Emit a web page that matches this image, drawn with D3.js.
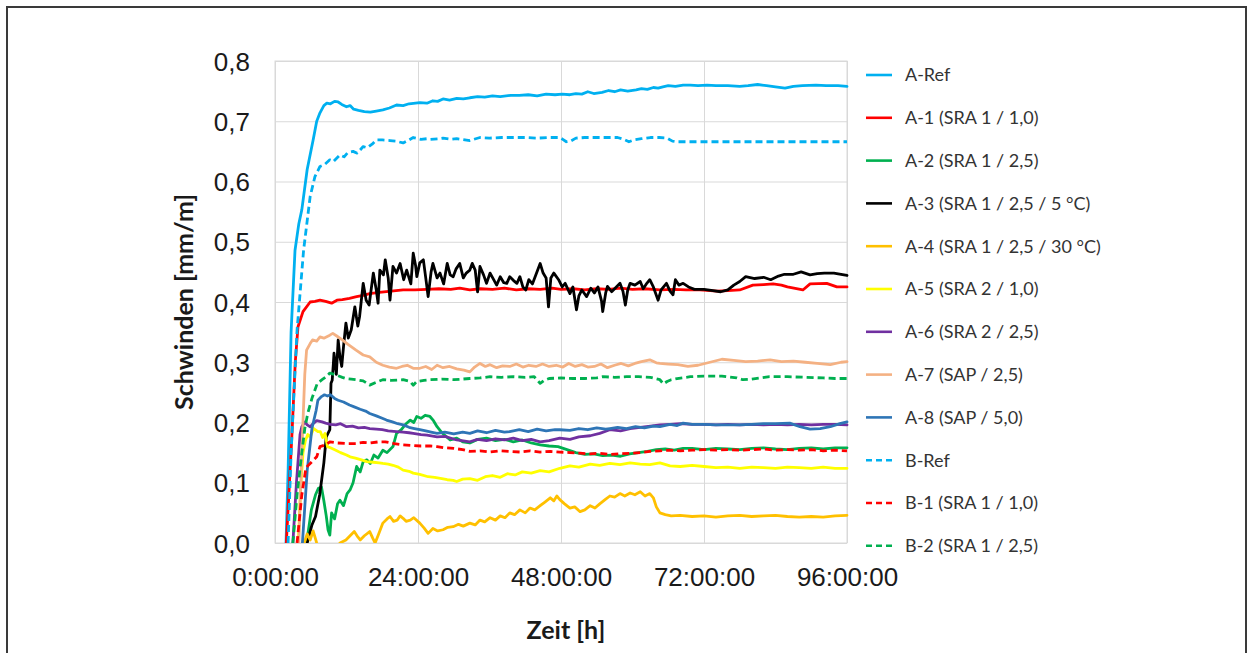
<!DOCTYPE html>
<html>
<head>
<meta charset="utf-8">
<script src="https://cdn.jsdelivr.net/npm/d3@7"></script>
<style>
  html, body { margin: 0; padding: 0; background: #ffffff; }
  svg { display: block; }
</style>
</head>
<body>
<svg id="chart" width="1253" height="653"></svg>
<script>
// Schwinden über die Zeit, Messreihen A und B
const xTicks = [0, 24, 48, 72, 96];
const yTicks = [0, 0.1, 0.2, 0.3, 0.4, 0.5, 0.6, 0.7, 0.8];
const xTitle = "Zeit [h]";
const yTitle = "Schwinden [mm/m]";

const seriesNames = [
  "A-Ref", "A-1 (SRA 1 / 1,0)", "A-2 (SRA 1 / 2,5)", "A-3 (SRA 1 / 2,5 / 5 °C)",
  "A-4 (SRA 1 / 2,5 / 30 °C)", "A-5 (SRA 2 / 1,0)", "A-6 (SRA 2 / 2,5)",
  "A-7 (SAP / 2,5)", "A-8 (SAP / 5,0)", "B-Ref", "B-1 (SRA 1 / 1,0)", "B-2 (SRA 1 / 2,5)"
];
const seriesColors = [
  "#00b0f0", "#ff0000", "#00b050", "#000000", "#ffc000", "#ffff00",
  "#7030a0", "#f4b183", "#2e75b6", "#00b0f0", "#ff0000", "#00b050"
];
const seriesDashed = [false, false, false, false, false, false, false, false, false, true, true, true];

// [Zeit in h, Schwinden in mm/m]
const aRef = [[1.85,0],[2.2,0.12],[2.7,0.35],[3.36,0.486],[4.0,0.53],[4.5,0.553],[5.4,0.62],[6.4,0.669],[7.0,0.70],[7.55,0.714],[8.2,0.726],[8.7,0.730],[9.3,0.729],[10.0,0.733],[10.6,0.732],[11.2,0.728],[12.0,0.724],[12.6,0.726],[13.2,0.72],[14.0,0.718],[15.0,0.716],[16.0,0.715],[17.0,0.717],[18.1,0.719],[19.2,0.722],[20.4,0.727],[21.5,0.726],[22.5,0.729],[24.3,0.731],[25.5,0.730],[26.5,0.734],[27.3,0.733],[28.2,0.737],[29.3,0.735],[30.5,0.738],[31.6,0.737],[32.7,0.739],[34,0.741],[35.2,0.740],[36.5,0.742],[37.8,0.741],[39.6,0.743],[41,0.743],[42.5,0.744],[44,0.742],[45.5,0.745],[47,0.744],[48.2,0.745],[49.5,0.744],[50.5,0.746],[51.5,0.745],[52.5,0.749],[53.5,0.746],[54.9,0.748],[56,0.751],[57,0.749],[58,0.752],[59.2,0.750],[60.6,0.752],[61.5,0.754],[62.5,0.753],[63.5,0.756],[64.3,0.755],[65.1,0.757],[66,0.759],[67.2,0.758],[68.5,0.760],[69.7,0.760],[71,0.759],[72.5,0.760],[74,0.759],[76,0.759],[78,0.758],[79.4,0.759],[81,0.761],[82.5,0.759],[84,0.757],[85.6,0.755],[87,0.758],[88.5,0.759],[90.8,0.760],[92.5,0.759],[94.5,0.759],[96,0.758]];

const a1 = [[1.9,0],[2.8,0.171],[3.4,0.30],[3.86,0.359],[4.7,0.384],[5.9,0.400],[6.7,0.401],[7.55,0.403],[8.5,0.401],[9.5,0.398],[10.4,0.403],[11.3,0.404],[12.5,0.406],[13.7,0.409],[14.8,0.411],[15.9,0.414],[17.5,0.416],[19.5,0.418],[21.5,0.420],[23.5,0.420],[25.5,0.421],[27.5,0.422],[29.5,0.421],[31,0.423],[32.7,0.420],[34.5,0.422],[36.5,0.421],[38.5,0.423],[40.5,0.420],[42.5,0.422],[44.5,0.421],[46.5,0.423],[48,0.421],[50,0.422],[52,0.420],[54,0.422],[56,0.421],[58,0.423],[60,0.421],[62,0.422],[64.6,0.420],[67,0.421],[69,0.420],[71.3,0.420],[74.2,0.418],[76,0.419],[78,0.420],[80.2,0.428],[82,0.429],[83.6,0.430],[85,0.428],[86,0.425],[88.6,0.420],[89.8,0.430],[92.6,0.431],[94.3,0.425],[96,0.425]];

const a2 = [[5.3,0],[6.1,0.055],[6.8,0.08],[7.3,0.091],[7.8,0.093],[8.2,0.07],[8.6,0.045],[8.9,0.022],[9.2,0.013],[9.5,0.05],[10.0,0.04],[10.5,0.065],[10.9,0.071],[11.5,0.062],[12.1,0.082],[12.6,0.088],[13.1,0.10],[13.7,0.127],[14.3,0.118],[14.8,0.135],[15.4,0.138],[16.0,0.132],[16.6,0.146],[17.3,0.141],[18.1,0.154],[18.8,0.150],[19.8,0.160],[20.4,0.182],[21.2,0.188],[22.0,0.198],[22.7,0.204],[23.3,0.200],[23.8,0.210],[24.5,0.207],[25.2,0.212],[26.0,0.210],[26.6,0.203],[27.2,0.193],[28.0,0.183],[28.6,0.178],[29.4,0.171],[30.5,0.174],[31.5,0.168],[32.7,0.166],[34,0.172],[35.5,0.174],[37,0.170],[38.5,0.172],[40,0.168],[41.5,0.171],[43,0.166],[44.5,0.163],[46,0.161],[47.5,0.160],[49,0.155],[50.5,0.150],[52,0.147],[53.5,0.148],[55,0.145],[56.5,0.146],[58,0.144],[59.5,0.148],[61,0.150],[62.5,0.152],[64,0.155],[65.5,0.156],[67,0.154],[68.5,0.157],[70,0.157],[72,0.155],[74,0.157],[76,0.156],[78,0.155],[80,0.157],[82,0.158],[84,0.156],[86,0.155],[88,0.157],[90,0.158],[92,0.156],[94,0.158],[96,0.158]];

const a3 = [[5.4,0],[6.2,0.03],[6.8,0.044],[7.5,0.08],[8.2,0.133],[8.6,0.176],[9.2,0.188],[9.4,0.265],[9.6,0.27],[9.8,0.298],[9.9,0.315],[10.3,0.28],[10.6,0.337],[10.9,0.309],[11.2,0.293],[11.5,0.326],[11.9,0.365],[12.3,0.340],[12.8,0.354],[13.4,0.392],[13.9,0.360],[14.2,0.376],[14.8,0.431],[15.3,0.403],[15.8,0.395],[16.5,0.448],[17.0,0.420],[17.3,0.398],[17.6,0.453],[18.2,0.445],[18.5,0.470],[19.0,0.440],[19.3,0.403],[19.8,0.459],[20.4,0.448],[21.0,0.464],[21.6,0.437],[22.1,0.453],[22.8,0.430],[23.2,0.481],[23.6,0.460],[23.8,0.442],[24.3,0.465],[24.9,0.470],[25.3,0.440],[25.7,0.409],[26.2,0.45],[26.5,0.464],[27.2,0.440],[27.7,0.448],[28.3,0.430],[28.9,0.464],[29.4,0.445],[29.9,0.442],[30.4,0.455],[31.0,0.464],[31.6,0.440],[32.1,0.448],[32.7,0.453],[33.1,0.464],[33.6,0.453],[34.0,0.417],[34.4,0.459],[35.0,0.445],[35.5,0.431],[36.1,0.448],[36.7,0.437],[37.2,0.428],[37.8,0.442],[38.4,0.432],[38.9,0.431],[39.4,0.442],[40.0,0.436],[40.6,0.431],[41.1,0.442],[41.6,0.425],[42.1,0.420],[42.6,0.437],[43.2,0.430],[44.5,0.464],[45.0,0.448],[45.5,0.440],[45.9,0.392],[46.3,0.440],[46.8,0.448],[47.6,0.437],[48.2,0.425],[48.7,0.431],[49.5,0.414],[50.0,0.425],[50.6,0.387],[51.0,0.410],[51.5,0.42],[52.3,0.409],[53.0,0.423],[53.6,0.415],[54.2,0.425],[54.8,0.402],[55.0,0.384],[55.5,0.415],[55.8,0.426],[56.5,0.417],[57.2,0.424],[57.9,0.431],[58.4,0.418],[58.8,0.395],[59.2,0.420],[59.6,0.431],[60.4,0.428],[61.3,0.434],[61.8,0.422],[62.4,0.431],[62.9,0.437],[63.5,0.425],[64.3,0.403],[64.8,0.420],[65.7,0.431],[66.3,0.418],[66.8,0.412],[67.2,0.437],[67.8,0.428],[68.5,0.431],[69.4,0.425],[70.4,0.421],[72,0.421],[73.5,0.419],[74.8,0.417],[76,0.420],[77,0.428],[78,0.434],[79,0.442],[80.5,0.439],[82,0.441],[83.2,0.437],[84.5,0.443],[85.5,0.446],[87,0.446],[88.3,0.450],[89.8,0.445],[91,0.447],[92.2,0.448],[93.8,0.448],[95,0.446],[96,0.444]];

const a4 = [[4.9,0],[5.4,0.015],[5.9,0.005],[6.4,0.02],[7.0,0.0],[7.5,-0.01],[9,-0.02],[10.5,-0.005],[10.9,0.0],[11.9,0.005],[12.6,0.012],[13.3,0.019],[13.9,0.010],[14.3,0.005],[15.0,0.012],[15.9,0.019],[16.4,0.008],[16.8,0.0],[17.4,0.015],[18.1,0.033],[18.8,0.040],[19.3,0.044],[19.9,0.036],[20.5,0.038],[21.0,0.045],[21.5,0.041],[22.0,0.036],[22.7,0.038],[23.3,0.042],[24.3,0.033],[25.0,0.025],[25.7,0.016],[26.5,0.024],[27.3,0.020],[28.2,0.022],[29.0,0.026],[29.9,0.027],[30.8,0.031],[31.6,0.028],[32.7,0.033],[33.6,0.030],[34.4,0.038],[35.2,0.035],[36.1,0.042],[37,0.038],[37.8,0.045],[38.6,0.042],[39.4,0.05],[40.2,0.047],[41.1,0.055],[42,0.050],[42.8,0.058],[43.6,0.055],[44.5,0.062],[45.3,0.068],[46.2,0.075],[46.8,0.07],[47.3,0.078],[47.8,0.072],[48.6,0.065],[49.5,0.058],[50.3,0.060],[51.2,0.052],[52.0,0.055],[52.9,0.062],[53.7,0.058],[54.5,0.065],[55.4,0.072],[56.2,0.078],[57.0,0.076],[57.9,0.082],[58.7,0.078],[59.6,0.083],[60.4,0.080],[61.3,0.085],[62.1,0.078],[62.9,0.082],[63.5,0.075],[64.0,0.060],[64.6,0.050],[65.5,0.047],[66.5,0.045],[68,0.046],[70,0.044],[72,0.045],[74,0.043],[76,0.045],[78,0.046],[80,0.044],[82,0.045],[84,0.046],[86,0.044],[88,0.043],[90,0.044],[92,0.043],[94,0.045],[96,0.046]];

const a5 = [[3.9,0],[4.3,0.09],[4.7,0.15],[5.1,0.17],[5.5,0.18],[5.9,0.176],[6.5,0.19],[7.2,0.185],[7.6,0.185],[8.0,0.175],[8.4,0.182],[8.8,0.16],[9.3,0.158],[10.2,0.154],[11,0.150],[12,0.146],[12.6,0.143],[13.5,0.141],[14.5,0.138],[15.4,0.135],[16.5,0.134],[17.5,0.133],[18.1,0.132],[19.0,0.131],[19.8,0.129],[20.7,0.126],[21.5,0.121],[22.5,0.119],[23.2,0.116],[24.3,0.114],[25.7,0.110],[26.8,0.109],[28.0,0.107],[28.9,0.105],[29.9,0.104],[30.5,0.102],[31.5,0.106],[32.7,0.107],[34,0.104],[35.3,0.110],[36.5,0.112],[37.8,0.109],[39,0.115],[40.3,0.113],[41.5,0.118],[43,0.116],[44.5,0.120],[46,0.118],[47.8,0.124],[49.5,0.128],[51,0.126],[52.9,0.131],[54.5,0.129],[56.2,0.132],[57.9,0.130],[59.6,0.133],[61.3,0.131],[62.9,0.130],[64.6,0.133],[66.3,0.128],[68,0.127],[70,0.129],[72,0.127],[74,0.125],[76,0.126],[78,0.124],[80,0.126],[82,0.125],[84,0.124],[86,0.126],[88,0.125],[90,0.124],[92,0.126],[94,0.124],[96,0.124]];

const a6 = [[3.0,0],[3.6,0.1],[4.2,0.18],[4.5,0.193],[5.0,0.201],[5.4,0.196],[5.9,0.193],[6.5,0.199],[7.0,0.203],[7.9,0.201],[8.5,0.199],[9.3,0.197],[10.2,0.196],[11,0.198],[12,0.193],[13,0.194],[14,0.191],[15,0.192],[15.9,0.190],[17,0.189],[18,0.188],[19,0.186],[20.4,0.185],[21.5,0.184],[22.5,0.183],[23.2,0.182],[24.5,0.180],[25.5,0.179],[27.2,0.176],[28.5,0.177],[30.5,0.171],[32.7,0.168],[34,0.172],[35.5,0.170],[37,0.173],[38.5,0.171],[40,0.174],[41.5,0.170],[43,0.172],[44.5,0.168],[46,0.170],[47.8,0.174],[49.5,0.172],[51,0.176],[52.9,0.178],[54.5,0.182],[56.2,0.188],[58,0.186],[59.6,0.190],[61.3,0.192],[63,0.194],[64.6,0.196],[66.3,0.197],[68,0.198],[70,0.197],[72,0.197],[74,0.196],[76,0.197],[78,0.196],[80,0.197],[82,0.196],[84,0.197],[86,0.196],[88,0.197],[90,0.196],[92,0.197],[94,0.197],[96,0.196]];

const a7 = [[4.0,0],[4.5,0.15],[5.0,0.28],[5.3,0.32],[5.9,0.331],[6.3,0.337],[7.0,0.335],[7.55,0.342],[8.2,0.340],[9.2,0.345],[9.7,0.348],[10.3,0.344],[11.3,0.337],[12.2,0.330],[13.6,0.320],[14.8,0.312],[15.9,0.309],[17.0,0.300],[18.1,0.295],[19.2,0.292],[20.4,0.29],[21.3,0.293],[22.2,0.295],[23.2,0.290],[24.3,0.290],[25.3,0.293],[26.3,0.288],[27.2,0.295],[28.2,0.291],[29.3,0.293],[30.5,0.289],[31.7,0.287],[32.7,0.284],[33.5,0.292],[34.4,0.298],[35.3,0.293],[36.1,0.296],[37.2,0.291],[38.2,0.294],[39.4,0.293],[40.5,0.297],[41.6,0.292],[42.6,0.295],[43.8,0.293],[44.9,0.297],[46,0.293],[47.2,0.295],[48.3,0.292],[49.3,0.298],[50.4,0.293],[51.5,0.296],[52.5,0.292],[53.6,0.293],[54.7,0.297],[55.8,0.291],[57,0.295],[58.1,0.298],[59.3,0.294],[60.4,0.298],[61.5,0.301],[62.9,0.304],[64,0.299],[64.6,0.298],[66,0.297],[67.6,0.296],[69.3,0.293],[71,0.295],[73,0.300],[75,0.305],[77,0.303],[79,0.301],[81,0.302],[83.1,0.304],[85,0.301],[87,0.302],[89,0.300],[91,0.298],[93.2,0.296],[95,0.300],[96,0.301]];

const a8 = [[4.6,0],[5.4,0.12],[6.2,0.19],[6.9,0.22],[7.2,0.237],[7.8,0.243],[8.3,0.246],[8.8,0.244],[9.3,0.246],[10.0,0.240],[10.6,0.237],[11.5,0.234],[12.5,0.229],[13.3,0.226],[14.3,0.222],[15.2,0.219],[15.9,0.215],[17.0,0.211],[18.0,0.207],[18.7,0.204],[19.7,0.201],[20.6,0.198],[21.5,0.196],[22.5,0.192],[23.4,0.190],[24.3,0.188],[25.3,0.186],[26.2,0.184],[27.2,0.182],[28.5,0.184],[30,0.181],[31.5,0.184],[32.7,0.182],[34,0.186],[35.5,0.183],[37,0.187],[38.5,0.184],[39.4,0.185],[41,0.188],[42.5,0.185],[44,0.189],[45.5,0.186],[47,0.188],[47.8,0.188],[49.5,0.187],[51,0.190],[52.5,0.188],[54,0.191],[55.5,0.189],[56.2,0.190],[57.5,0.192],[59,0.190],[60.5,0.193],[62,0.191],[63.5,0.194],[64.6,0.193],[66.3,0.197],[67.5,0.195],[68.5,0.199],[70,0.197],[72,0.197],[74,0.196],[76,0.196],[78,0.196],[80,0.197],[82,0.198],[84,0.198],[86.4,0.199],[88.1,0.193],[89.8,0.189],[91.5,0.190],[93.2,0.193],[94.8,0.198],[96,0.201]];

const bRef = [[2.2,0],[2.7,0.15],[3.7,0.353],[4.8,0.486],[5.9,0.575],[6.7,0.608],[7.55,0.625],[8.3,0.628],[9.2,0.636],[9.8,0.633],[10.9,0.644],[11.6,0.641],[12.2,0.648],[13.1,0.650],[13.8,0.647],[14.8,0.658],[15.5,0.656],[16.3,0.662],[17.0,0.669],[18.0,0.669],[19.3,0.668],[20.3,0.667],[21.5,0.664],[22.3,0.668],[23.2,0.673],[24.5,0.670],[25.5,0.671],[26.0,0.670],[27.5,0.671],[28.2,0.672],[29.5,0.670],[30.5,0.671],[32.7,0.668],[34.4,0.673],[36,0.672],[38,0.673],[40,0.673],[42,0.673],[44,0.672],[46,0.673],[47.8,0.673],[48.3,0.670],[48.9,0.666],[49.6,0.667],[50.5,0.672],[52,0.673],[54,0.673],[56,0.673],[57.5,0.673],[58.5,0.670],[59.4,0.666],[60.2,0.669],[61.5,0.671],[63,0.673],[64.5,0.673],[65.8,0.672],[66.7,0.667],[67.5,0.666],[70,0.666],[75,0.666],[80,0.666],[85,0.666],[90,0.666],[96,0.666]];

const b1 = [[3.7,0],[4.5,0.08],[5.2,0.125],[7.0,0.143],[7.55,0.160],[8.5,0.163],[9.2,0.168],[10.5,0.166],[12,0.165],[13.4,0.165],[14.8,0.167],[16,0.166],[17.5,0.168],[18.5,0.168],[20,0.165],[21.5,0.163],[23,0.162],[24.5,0.161],[26,0.161],[27.2,0.160],[28.5,0.158],[30,0.157],[31.5,0.155],[32.7,0.152],[34.4,0.153],[36.1,0.151],[37.8,0.153],[39.4,0.152],[41.1,0.151],[42.8,0.153],[44.5,0.151],[46.2,0.152],[47.8,0.151],[49.5,0.150],[51.2,0.149],[52.9,0.148],[54.5,0.149],[56.2,0.147],[57.9,0.148],[59.6,0.149],[61.3,0.150],[62.9,0.152],[64.6,0.153],[66.3,0.154],[68,0.153],[70,0.154],[72,0.155],[74,0.154],[76,0.155],[78,0.154],[80,0.155],[82,0.156],[84,0.154],[86,0.155],[88,0.154],[90,0.155],[92,0.153],[94,0.154],[96,0.153]];

const b2 = [[3.0,0],[3.7,0.08],[4.5,0.15],[5.0,0.19],[5.5,0.215],[6.2,0.24],[6.7,0.254],[7.1,0.265],[7.9,0.271],[8.6,0.276],[9.2,0.282],[10.2,0.279],[11.3,0.275],[11.9,0.273],[12.8,0.272],[13.7,0.271],[14.8,0.269],[15.9,0.262],[16.8,0.266],[18.1,0.271],[19.5,0.270],[21.5,0.271],[22.7,0.268],[23.2,0.262],[23.8,0.268],[25,0.270],[26,0.271],[28,0.272],[30,0.271],[32.7,0.273],[34.4,0.274],[36.1,0.276],[38,0.275],[40,0.276],[42,0.275],[43.5,0.276],[44.5,0.265],[45.2,0.270],[46,0.273],[48,0.274],[50,0.273],[52,0.273],[54,0.274],[55,0.276],[57,0.275],[59,0.276],[61,0.276],[63,0.275],[64.6,0.271],[65.2,0.264],[65.8,0.268],[66.5,0.271],[67.5,0.273],[69.7,0.276],[72,0.277],[75,0.277],[77.5,0.274],[78.5,0.271],[80,0.272],[83,0.276],[86,0.276],[89,0.275],[92,0.274],[94,0.273],[96,0.273]];

const seriesValues = [aRef, a1, a2, a3, a4, a5, a6, a7, a8, bRef, b1, b2];

// Layout
const svg = d3.select("#chart");
const plot = { left: 275, top: 61, right: 847, bottom: 543 };
const width = plot.right - plot.left;
const height = plot.bottom - plot.top;

// Outer frame
svg.append("path")
  .attr("d", "M7,660 L7,7 L1246,7 L1246,660")
  .attr("fill", "none")
  .attr("stroke", "#3a3a3a")
  .attr("stroke-width", 2);

const x = d3.scaleLinear().domain([0, 96]).range([0, width]);
const y = d3.scaleLinear().domain([0, 0.8]).range([height, 0]);

const g = svg.append("g").attr("transform", `translate(${plot.left},${plot.top})`);

const fmtY = v => d3.format(".1f")(v).replace(".", ",");
const fmtX = h => `${h}:00:00`;

// Y axis with horizontal gridlines
const yAxis = g.append("g")
  .call(d3.axisLeft(y).tickValues(yTicks).tickFormat(fmtY).tickSize(-width).tickPadding(25));
yAxis.select(".domain").remove();
yAxis.selectAll(".tick line").attr("stroke", "#d9d9d9").attr("stroke-width", 1);
yAxis.selectAll(".tick text")
  .attr("font-family", "'Liberation Sans', Arial, sans-serif")
  .attr("font-size", 26)
  .attr("fill", "#1a1a1a")
  .attr("dy", "0.35em");

// X axis with vertical gridlines
const xAxis = g.append("g")
  .attr("transform", `translate(0,${height})`)
  .call(d3.axisBottom(x).tickValues(xTicks).tickFormat(fmtX).tickSize(-height).tickPadding(25));
xAxis.select(".domain").remove();
xAxis.selectAll(".tick line").attr("stroke", "#d9d9d9").attr("stroke-width", 1);
xAxis.selectAll(".tick text")
  .attr("font-family", "'Liberation Sans', Arial, sans-serif")
  .attr("font-size", 26)
  .attr("fill", "#1a1a1a");

// Plot area border
g.append("rect")
  .attr("x", 0).attr("y", 0).attr("width", width).attr("height", height)
  .attr("fill", "none").attr("stroke", "#d9d9d9").attr("stroke-width", 1);

// Clip for values below zero
svg.append("defs").append("clipPath").attr("id", "plotClip")
  .append("rect").attr("x", -2).attr("y", -2).attr("width", width + 4).attr("height", height + 2);

const line = d3.line()
  .x(d => x(d[0]))
  .y(d => y(d[1]));

const lines = g.append("g").attr("clip-path", "url(#plotClip)");
seriesValues.forEach((vals, i) => {
  lines.append("path")
    .datum(vals)
    .attr("d", line)
    .attr("fill", "none")
    .attr("stroke", seriesColors[i])
    .attr("stroke-width", 2.8)
    .attr("stroke-linejoin", "round")
    .attr("stroke-linecap", seriesDashed[i] ? "butt" : "round")
    .attr("stroke-dasharray", seriesDashed[i] ? "7,4" : null);
});

// Axis titles
svg.append("text")
  .attr("transform", `translate(193,${(plot.top + plot.bottom) / 2}) rotate(-90)`)
  .attr("text-anchor", "middle")
  .attr("font-family", "Lato, 'Open Sans', sans-serif")
  .attr("font-weight", "bold")
  .attr("font-size", 25)
  .attr("fill", "#1a1a1a")
  .text(yTitle);

svg.append("text")
  .attr("x", (plot.left + plot.right) / 2 + 5)
  .attr("y", 639)
  .attr("text-anchor", "middle")
  .attr("font-family", "Lato, 'Open Sans', sans-serif")
  .attr("font-weight", "bold")
  .attr("font-size", 25)
  .attr("fill", "#1a1a1a")
  .text(xTitle);

// Legend
const legend = svg.append("g").attr("transform", "translate(866,75)");
const rowGap = 42.8;
seriesNames.forEach((name, i) => {
  const row = legend.append("g").attr("transform", `translate(0,${i * rowGap})`);
  row.append("line")
    .attr("x1", 0).attr("x2", 26).attr("y1", 0).attr("y2", 0)
    .attr("stroke", seriesColors[i])
    .attr("stroke-width", 2.6)
    .attr("stroke-dasharray", seriesDashed[i] ? "6,4" : null);
  row.append("text")
    .attr("x", 39).attr("y", 0).attr("dy", "0.35em")
    .attr("font-family", "Lato, 'Open Sans', sans-serif")
    .attr("font-size", 18)
    .attr("fill", "#333333")
    .text(name);
});
</script>
</body>
</html>
